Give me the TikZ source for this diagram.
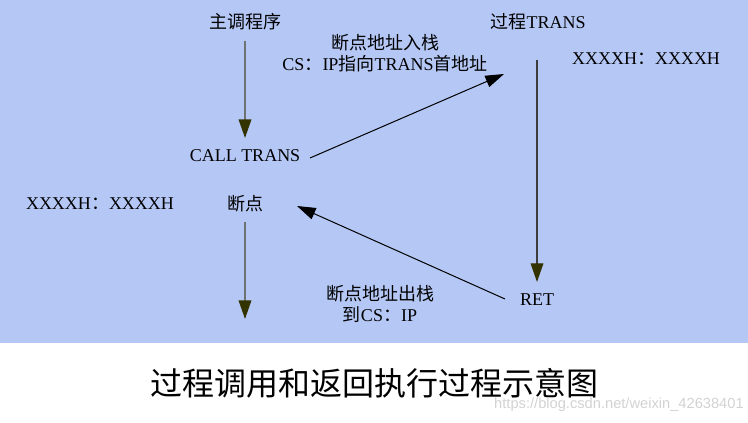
\documentclass[tikz,border=0pt]{standalone}
\usepackage{fontspec}
\setmainfont{Liberation Serif}
\newfontfamily\cjk{Noto Sans CJK SC}
\newfontfamily\wmfont{Liberation Sans}
\usetikzlibrary{arrows.meta}
\definecolor{bgblue}{RGB}{180,199,245}
\definecolor{olivehead}{RGB}{51,51,0}
\definecolor{lgray}{RGB}{110,115,114}
\definecolor{dgray}{RGB}{60,60,60}
\begin{document}
\begin{tikzpicture}[x=0.75pt,y=-0.75pt,
  lbl/.style={inner sep=0pt, font=\fontsize{13.5}{16}\selectfont, align=center, text=black},
  vline/.style={draw=lgray, line width=1.1pt, -{Triangle[length=14pt,width=9.5pt,color=olivehead]}},
  vdark/.style={draw=dgray, line width=0.9pt, -{Triangle[length=14pt,width=9.5pt,color=olivehead]}},
  dline/.style={draw=black, line width=0.75pt, -{Triangle[length=14pt,width=9pt,color=black]}}
]
\fill[bgblue] (0,0) rectangle (748,343);
\useasboundingbox (0,0) rectangle (748,423);

\node[lbl] (main) at (245,22) {\cjk 主调程序};
\node[lbl] (proc) at (538,22) {{\cjk 过程}TRANS};
\node[lbl] (push) at (385,53) {{\cjk 断点地址入栈}\\CS{\cjk ：}IP{\cjk 指向}TRANS{\cjk 首地址}};
\node[lbl] (addr1) at (646,59) {XXXXH{\cjk ：}XXXXH};
\node[lbl] (call) at (245,156) {CALL TRANS};
\node[lbl] (addr2) at (100,204) {XXXXH{\cjk ：}XXXXH};
\node[lbl] (bp) at (245,204) {\cjk 断点};
\node[lbl] (pop) at (380,304) {{\cjk 断点地址出栈}\\{\cjk 到}CS{\cjk ：}IP};
\node[lbl] (ret) at (537,300) {RET};
\node[inner sep=0pt, font=\cjk\fontsize{24}{28}\selectfont] (title) at (374,383) {过程调用和返回执行过程示意图};
\node[inner sep=0pt, font=\wmfont\fontsize{11}{13}\selectfont, text=gray!35, anchor=east] (wm) at (744,405) {https://blog.csdn.net/weixin\_42638401};

\coordinate (mainout) at (245,41);
\coordinate (callin) at (245,138);
\coordinate (callout) at (310,158);
\coordinate (procin) at (504,74);
\coordinate (procout) at (537,60);
\coordinate (retin) at (537,282);
\coordinate (retout) at (505,299);
\coordinate (bpin) at (297,206);
\coordinate (bpout) at (245,222);
\coordinate (cont) at (245,319);

\draw[vline] (mainout) -- (callin);
\draw[dline] (callout) -- (procin);
\draw[vdark] (procout) -- (retin);
\draw[dline] (retout) -- (bpin);
\draw[vline] (bpout) -- (cont);
\end{tikzpicture}
\end{document}
